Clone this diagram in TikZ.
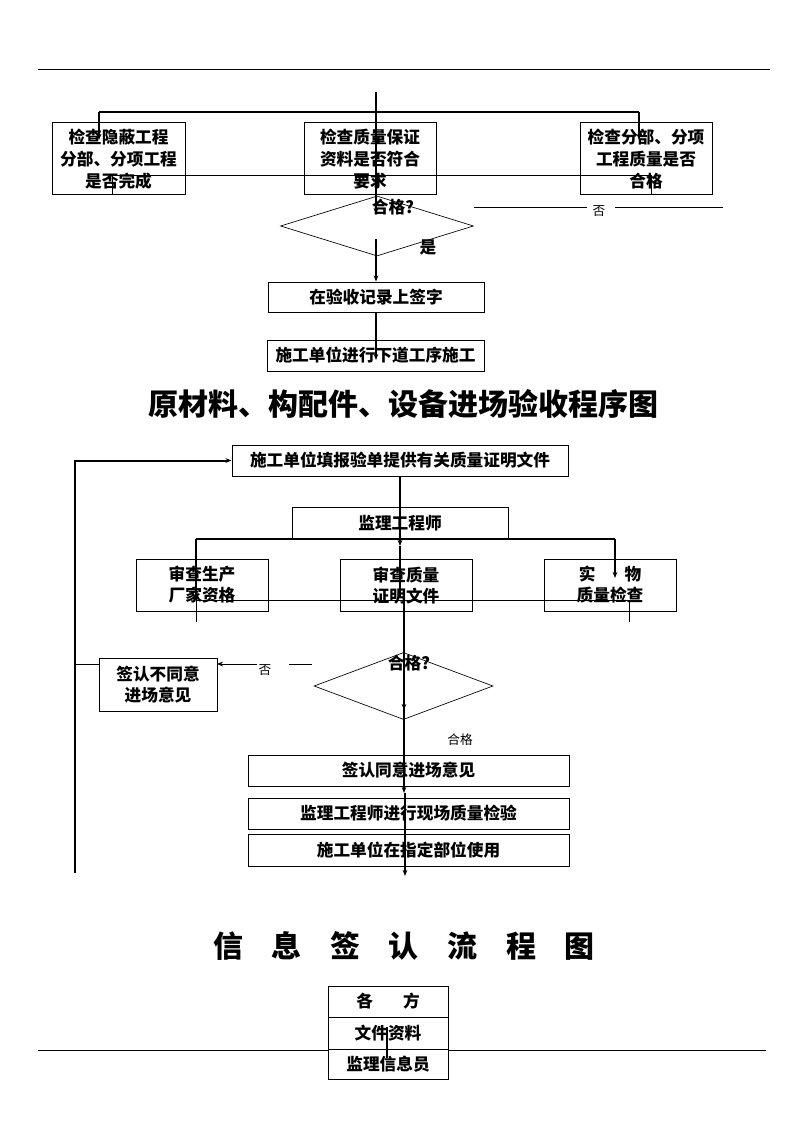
\documentclass[tikz,border=0pt]{standalone}
\usepackage{fontspec}
\setmainfont{Noto Sans CJK SC}
\usetikzlibrary{arrows.meta,shapes.geometric,calc}
\begin{document}
\begin{tikzpicture}[x=0.75pt,y=-0.75pt,
  box/.style={draw,line width=0.75pt,inner sep=0pt,align=center,font=\fontsize{12.5}{16.5}\selectfont\bfseries},
  box2/.style={box,font=\fontsize{12.5}{15.75}\selectfont\bfseries},
  dia/.style={draw,diamond,line width=0.5pt,inner sep=0pt},
  heavy/.style={line width=1.5pt},
  mid/.style={line width=1pt},
  slim/.style={line width=0.6pt},
  arr/.style={-{Stealth[length=4.5pt,width=3.5pt]}},
  lab/.style={inner sep=0pt,font=\fontsize{9.5}{11}\selectfont},
  blab/.style={inner sep=0pt,font=\fontsize{12.5}{15}\selectfont\bfseries},
  ttl/.style={inner sep=0pt,font=\fontsize{22.5}{27}\selectfont\bfseries}
]
\useasboundingbox (0,0) rectangle (794,1123);
% rules
\coordinate (h0) at (38,70); \coordinate (h1) at (770,70);
\draw[line width=0.75pt] (h0) -- (h1);

% ---------- top section ----------
\node[box,minimum width=99.75pt,minimum height=54pt] (a) at (118.5,159) {检查隐蔽工程\\分部、分项工程\\是否完成};
\node[box,minimum width=99pt,minimum height=54pt] (b) at (370,159) {检查质量保证\\资料是否符合\\要求};
\node[box,minimum width=99pt,minimum height=54pt] (c) at (646,159) {检查分部、分项\\工程质量是否\\合格};
\node[dia,minimum width=144.75pt,minimum height=45pt] (d1) at (377,226) {};
\node[blab] (q1) at (393,207) {合格?};
\node[lab] (no1) at (599,211) {否};
\node[blab] (yes1) at (428,247) {是};
\node[box,minimum width=162pt,minimum height=22.5pt] (d) at (376,297) {在验收记录上签字};
\node[box,minimum width=162.75pt,minimum height=23.25pt] (e) at (375.5,355.5) {施工单位进行下道工序施工};

\coordinate (t0) at (376,92); \coordinate (t1) at (376,214);
\coordinate (t2) at (376,239); \coordinate (t3) at (376,360);
\draw[heavy,arr] (t0) -- (t1);
\draw[heavy,arr] (t2) -- (d.north);
\draw[heavy,arr] (d.south) -- (t3);

\coordinate (ul) at (99,112); \coordinate (ur) at (639,112);
\coordinate (ulb) at (99,140); \coordinate (urb) at (639,140);
\draw[mid] (ul) -- (ur);
\draw[mid,arr] (ul) -- (ulb);
\draw[mid,arr] (ur) -- (urb);
\coordinate (ml) at (112,175); \coordinate (mr) at (651,175);
\draw[slim] (ml) -- (mr);
\draw[slim] (ml) -- (112,195);
\draw[slim] (mr) -- (651,195);

\coordinate (n1a) at (474,207); \coordinate (n1b) at (587,207);
\coordinate (n1c) at (615,207); \coordinate (n1d) at (723,207);
\draw[slim] (n1a) -- (n1b);
\draw[slim] (n1c) -- (n1d);

\node[ttl] (title1) at (403,404) {原材料、构配件、设备进场验收程序图};

% ---------- middle section ----------
\node[box,minimum width=252pt,minimum height=23.25pt] (f) at (400,460.5) {施工单位填报验单提供有关质量证明文件};
\node[box,minimum width=162pt,minimum height=24pt] (g) at (400,523) {监理工程师};
\node[box2,minimum width=99pt,minimum height=39pt] (hh) at (202,585) {审查生产\\厂家资格};
\node[box2,minimum width=99pt,minimum height=39pt] (ii) at (406,585.5) {审查质量\\证明文件};
\node[box2,minimum width=99pt,minimum height=39pt] (jj) at (610,585) {实\hspace{1.75em}物\\质量检查};
\node[dia,minimum width=134.25pt,minimum height=50.25pt] (d2) at (403.5,686) {};
\node[blab] (q2) at (409,663) {合格?};
\node[box2,minimum width=88.5pt,minimum height=39.75pt] (k) at (158,684.5) {签认不同意\\进场意见};
\node[lab] (no2) at (265,670) {否};
\node[lab] (ok2) at (460,740) {合格};
\node[box,minimum width=240.75pt,minimum height=23.25pt] (l) at (408.5,770.5) {签认同意进场意见};
\node[box,minimum width=240.75pt,minimum height=23.25pt] (m) at (408.5,813.5) {监理工程师进行现场质量检验};
\node[box,minimum width=240.75pt,minimum height=24pt] (n) at (408.5,850) {施工单位在指定部位使用};

% feedback loop
\coordinate (fb0) at (75,873); \coordinate (fb1) at (75,460.5);
\draw[heavy,arr] (fb0) -- (fb1) -- (f.west);
% main vertical
\coordinate (v1) at (400,546); \coordinate (v2) at (400,598);
\coordinate (v3) at (404,598); \coordinate (v4) at (404,710);
\coordinate (v5) at (404,698); \coordinate (v6) at (404,793);
\coordinate (v7) at (405,793); \coordinate (v8) at (405,876);
\draw[heavy,arr] (f.south) -- (v1);
\draw[heavy] (v1) -- (v2);
\draw[heavy,arr] (v3) -- (v4);
\draw[heavy,arr] (v5) -- (v6);
\draw[heavy,arr] (v7) -- (v8);
% branch from engineer
\coordinate (gl) at (196,539); \coordinate (gr) at (615,539);
\coordinate (glb) at (196,600); \coordinate (grb) at (615,578);
\draw[mid] (gl) -- (gr);
\draw[heavy] (gl) -- (glb);
\draw[heavy,arr] (gr) -- (grb);
\coordinate (sl) at (196,600); \coordinate (sr) at (629,600);
\draw[slim] (sl) -- (sr);
\draw[slim] (sl) -- (196,622);
\draw[slim] (sr) -- (629,622);
% no branch
\coordinate (n2a) at (312,664); \coordinate (n2b) at (289,664);
\coordinate (n2c) at (257,664); \coordinate (n2d) at (217,664);
\coordinate (n2e) at (99,664); \coordinate (n2f) at (75,664);
\draw[slim] (n2a) -- (n2b);
\draw[slim,arr] (n2c) -- (n2d);
\draw[slim] (n2e) -- (n2f);

% ---------- bottom section ----------
\node[ttl] (title2) at (404,946) {信\hspace{21.5pt}息\hspace{21.5pt}签\hspace{21.5pt}认\hspace{21.5pt}流\hspace{21.5pt}程\hspace{21.5pt}图};
\node[box,minimum width=90pt,minimum height=23.25pt] (p) at (388,1001.5) {各\hspace{1.8em}方};
\node[box,minimum width=90pt,minimum height=24pt] (q) at (388,1033) {文件资料};
\node[box,minimum width=90pt,minimum height=22.5pt] (r) at (388,1064) {监理信息员};
\coordinate (w0) at (387,1027); \coordinate (w1) at (387,1058);
\draw[heavy] (w0) -- (w1);
\coordinate (fl0) at (38,1050); \coordinate (fl1) at (328,1050);
\coordinate (fr0) at (448,1050); \coordinate (fr1) at (766,1050);
\draw[line width=0.75pt] (fl0) -- (fl1);
\draw[line width=0.75pt] (fr0) -- (fr1);
\end{tikzpicture}
\end{document}
